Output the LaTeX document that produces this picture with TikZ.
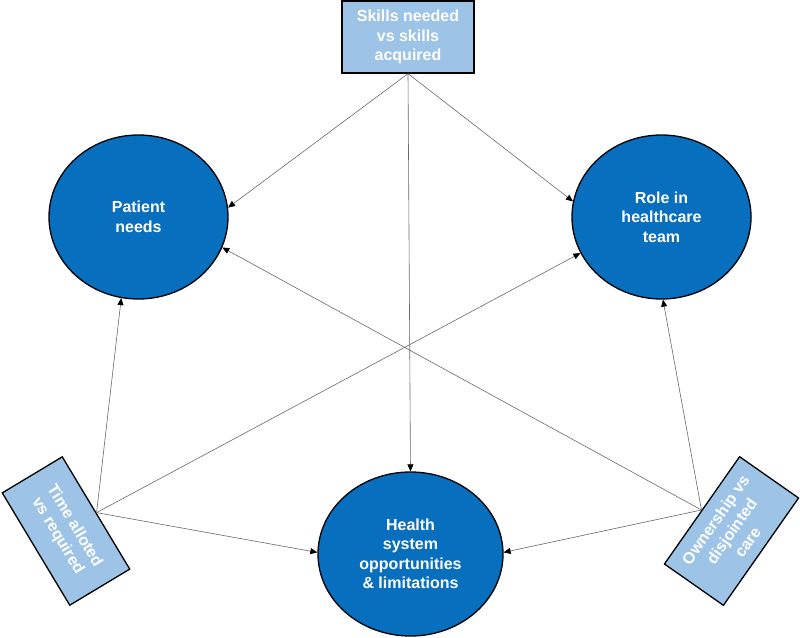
\documentclass[tikz,border=0pt]{standalone}
\usepackage{fontspec}
\setmainfont{Liberation Sans}
\usetikzlibrary{arrows.meta,shapes.geometric}
\definecolor{cblue}{RGB}{8,110,190}
\definecolor{lblue}{RGB}{157,195,230}
\definecolor{lgray}{RGB}{105,105,105}
\newcommand{\boxfont}{\fontsize{16}{19.5}\selectfont\bfseries}
\begin{document}
\begin{tikzpicture}[x=1pt,y=-1pt,
  circ/.style={ellipse, draw=black, line width=1.3pt, fill=cblue, text=white, font=\boxfont, align=center, inner sep=0pt},
  lbox/.style={rectangle, draw=black, line width=1.3pt, fill=lblue, text=white, font=\boxfont, align=center, inner sep=0pt},
  conn/.style={draw=lgray, line width=0.6pt, -{Triangle[length=7pt,width=6pt,black]}}]
\useasboundingbox (0,0) rectangle (800,637);
\node[lbox, minimum width=132pt, minimum height=72pt] (skills) at (408,37) {Skills needed\\vs skills\\acquired};
\node[lbox, minimum width=131pt, minimum height=70pt, rotate=-59] (time) at (66,531) {Time alloted\\vs required};
\node[lbox, minimum width=131pt, minimum height=72pt, rotate=55] (own) at (731.5,531) {Ownership vs\\disjointed\\care};
\node[circ, minimum width=179pt, minimum height=164pt] (patient) at (138.5,217) {Patient\\needs};
\node[circ, minimum width=179pt, minimum height=164pt] (role) at (661.5,217) {Role in\\healthcare\\team};
\node[circ, minimum width=185pt, minimum height=164pt] (health) at (410.5,554) {Health\\system\\opportunities\\\& limitations};
\draw[conn] (skills.south) -- (patient.6.4);
\draw[conn] (skills.south) -- (role.170.5);
\draw[conn] (skills.south) -- (health.90);
\draw[conn] (time.north) -- (patient.-102.6);
\draw[conn] (time.north) -- (role.-156.2);
\draw[conn] (time.north) -- (health.179);
\draw[conn] (own.north) -- (patient.-20.8);
\draw[conn] (own.north) -- (role.-89);
\draw[conn] (own.north) -- (health.1);
\end{tikzpicture}
\end{document}
